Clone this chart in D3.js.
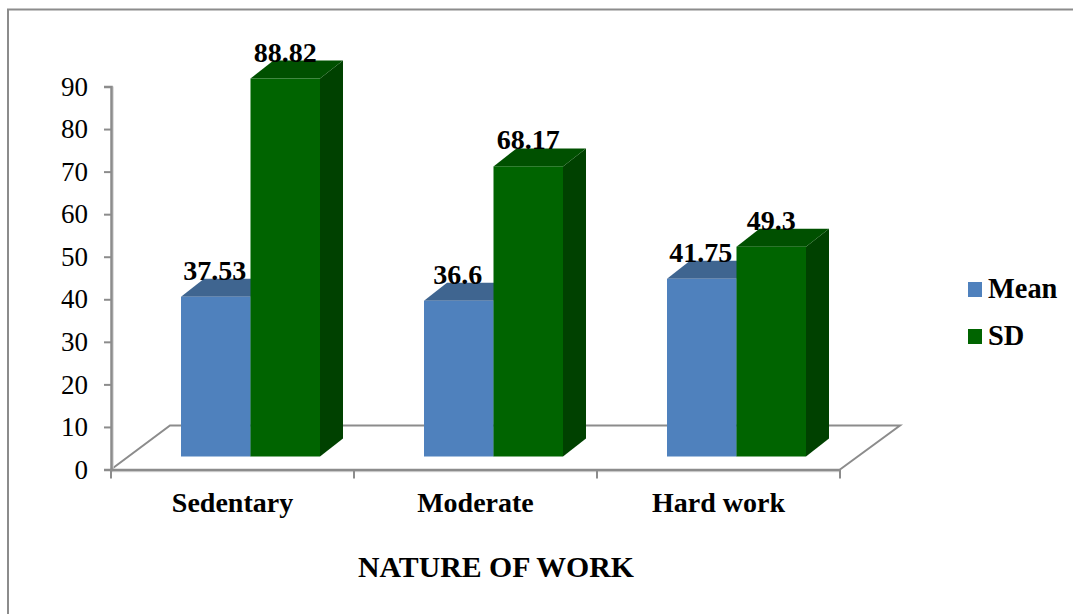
<!DOCTYPE html>
<html><head><meta charset="utf-8">
<script src="https://cdn.jsdelivr.net/npm/d3@7"></script>
<style>
html,body{margin:0;padding:0;background:#fff}
svg{display:block}
text{font-family:"Liberation Serif",serif;fill:#000}
</style></head><body>
<svg id="c" width="1073" height="614"></svg>
<script>
const categories=["Sedentary","Moderate","Hard work"];
const seriesNames=["Mean","SD"];
const meanValues=[37.53,36.6,41.75];
const sdValues=[88.82,68.17,49.3];
const yTicks=[0,10,20,30,40,50,60,70,80,90];
const frontColors=["#4f81bd","#006400"];
const topColors=["#3f6590","#005000"];
const sideColors=["#3a6aa0","#004100"];
const valueSeries=[meanValues,sdValues];

const svg=d3.select("#c");
const axisX=111,floorFront=469.5,depthX=59,depthY=-44,barDX=23,barDY=-18,baseFront=456.5;
const x=d3.scaleBand().domain(categories).range([axisX,840]);
const y=d3.scaleLinear().domain([0,90]).range([469.5,86.5]);
const h=v=>y(0)-y(v);
const axisCol="#8c8c8c";

// frame (open on the right and bottom)
svg.append("path").attr("d","M8,614V9.5H1073").attr("fill","none").attr("stroke",axisCol).attr("stroke-width",2);

// floor
svg.append("path").attr("fill","none").attr("stroke",axisCol).attr("stroke-width",2)
 .attr("d",`M${axisX},${floorFront}L${axisX+depthX},${floorFront+depthY}H${840+depthX+1}L840,${floorFront}`);

// axis shadows
svg.append("line").attr("x1",axisX+2).attr("x2",axisX+2).attr("y1",y(90)).attr("y2",y(0)).attr("stroke","#d4d4d4").attr("stroke-width",1.5);
svg.append("line").attr("x1",axisX).attr("x2",840).attr("y1",y(0)+2).attr("y2",y(0)+2).attr("stroke","#dcdcdc").attr("stroke-width",1.5);

// y axis
const ya=svg.append("g").attr("transform",`translate(${axisX},0)`).call(d3.axisLeft(y).tickValues(yTicks).tickSize(7).tickPadding(16));
ya.selectAll("path,line").attr("stroke",axisCol).attr("stroke-width",2);
ya.select("path").attr("stroke-width",2.5);
ya.selectAll("text").attr("font-size",27).attr("font-family","Liberation Serif").attr("fill","#000");

// x axis
const xa=svg.append("g").attr("transform",`translate(0,${floorFront})`).call(d3.axisBottom(x).tickValues([]).tickSize(0));
xa.select("path").attr("stroke",axisCol).attr("stroke-width",2.5);
const xEdges=[...categories.map(c=>x(c)),840];
svg.selectAll(".xt").data(xEdges).join("line").attr("x1",d=>d).attr("x2",d=>d)
 .attr("y1",floorFront).attr("y2",floorFront+9).attr("stroke",axisCol).attr("stroke-width",2);

// bars
const barW=69.5, barOffset=18;
categories.forEach((c,i)=>{
  const cx=x(c)+x.bandwidth()/2+barOffset;
  seriesNames.forEach((s,j)=>{
    const v=valueSeries[j][i];
    const x0=cx-barW+j*barW, x1=x0+barW, yT=baseFront-h(v);
    const g=svg.append("g");
    g.append("path").attr("fill",sideColors[j]).attr("d",`M${x1},${yT}l${barDX},${barDY}V${baseFront+barDY}L${x1},${baseFront}Z`);
    g.append("path").attr("fill",topColors[j]).attr("d",`M${x0},${yT}l${barDX},${barDY}H${x1+barDX}L${x1},${yT}Z`);
    g.append("rect").attr("x",x0).attr("y",yT).attr("width",barW).attr("height",baseFront-yT).attr("fill",frontColors[j]);
  });
});
// value labels
categories.forEach((c,i)=>{
  const cx=x(c)+x.bandwidth()/2+barOffset;
  seriesNames.forEach((s,j)=>{
    const v=valueSeries[j][i];
    svg.append("text").attr("x",cx-barW+j*barW+barW/2+(j==0?-1:0)).attr("y",baseFront-h(v)-17)
      .attr("text-anchor","middle").attr("font-weight","bold").attr("font-size",28).text(v);
  });
});
// category labels
categories.forEach(c=>{
  svg.append("text").attr("x",x(c)+x.bandwidth()/2).attr("y",512).attr("text-anchor","middle")
    .attr("font-weight","bold").attr("font-size",28).text(c);
});
svg.append("text").attr("x",496).attr("y",577).attr("text-anchor","middle").attr("font-weight","bold").attr("font-size",29.8).text("NATURE OF WORK");
// legend
seriesNames.forEach((s,j)=>{
  const ly=282+j*47;
  svg.append("rect").attr("x",968).attr("y",ly).attr("width",14).attr("height",15).attr("fill",frontColors[j]);
  svg.append("text").attr("x",988).attr("y",ly+16).attr("font-weight","bold").attr("font-size",28.4).text(s);
});
</script></body></html>
